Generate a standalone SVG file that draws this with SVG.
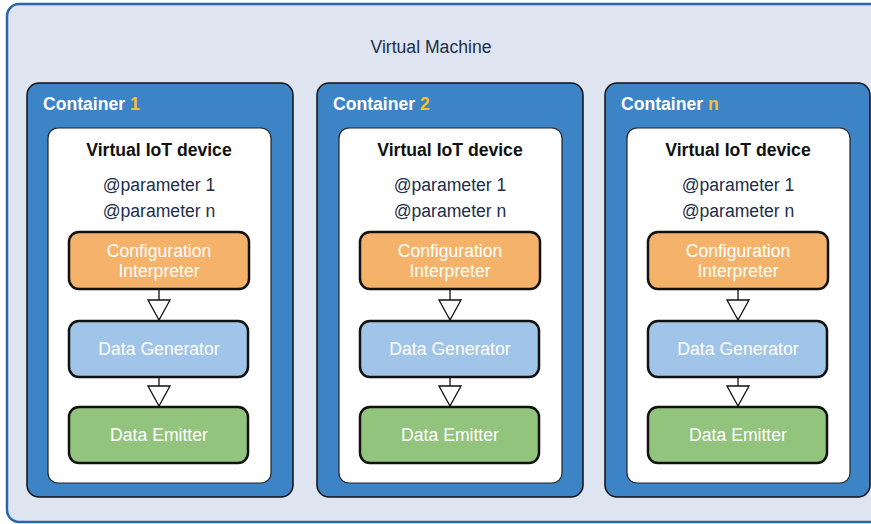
<svg xmlns="http://www.w3.org/2000/svg" width="871" height="524" viewBox="0 0 871 524">
  <defs>
    <style>
      .vm { fill: #dfe5f0; stroke: #2a66a8; stroke-width: 2.5; }
      .container { fill: #3d84c6; stroke: #111; stroke-width: 1.5; }
      .device { fill: #fff; stroke: #222; stroke-width: 1.2; }
      .step { stroke: #111; stroke-width: 2.5; }
      .cfg { fill: #f5b26b; }
      .gen { fill: #a0c5e8; }
      .emit { fill: #93c47d; }
      text { font-family: "Liberation Sans", Arial, sans-serif; font-size: 17.6px; }
      .vm-label { fill: #1c2e4a; text-anchor: middle; }
      .c-label { font-weight: bold; fill: #fff; }
      .c-num { fill: #f2c12e; }
      .d-title { font-weight: bold; fill: #111; text-anchor: middle; }
      .param { fill: #1c2e4a; text-anchor: middle; }
      .s-label { fill: #fff; text-anchor: middle; }
      .link { stroke: #111; stroke-width: 1.3; fill: none; marker-end: url(#hollow); }
    </style>
    <marker id="hollow" viewBox="0 0 24 22" refX="12" refY="21" markerWidth="24" markerHeight="22" markerUnits="userSpaceOnUse" orient="0">
      <path d="M1,1 L23,1 L12,21 Z" fill="#fff" stroke="#111" stroke-width="1.3"/>
    </marker>
    <!-- one virtual device with its pipeline, drawn at origin x = 0 -->
    <g id="device-template">
      <rect class="device" x="48" y="128" width="223" height="355" rx="10"/>
      <text class="d-title" x="159" y="156">Virtual IoT device</text>
      <text class="param" x="159" y="191">@parameter 1</text>
      <text class="param" x="159" y="217">@parameter n</text>
      <g>
        <rect class="step cfg" x="69" y="232" width="180" height="57" rx="10"/>
        <text class="s-label" x="159" y="257">Configuration</text>
        <text class="s-label" x="159" y="277">Interpreter</text>
      </g>
      <g>
        <rect class="step gen" x="69" y="321" width="179" height="56" rx="10"/>
        <text class="s-label" x="159" y="355">Data Generator</text>
      </g>
      <g>
        <rect class="step emit" x="69" y="407" width="179" height="56" rx="10"/>
        <text class="s-label" x="159" y="441">Data Emitter</text>
      </g>
      <g class="connectors">
        <line class="link" x1="159" y1="290" x2="159" y2="320"/>
        <line class="link" x1="159" y1="378" x2="159" y2="406"/>
      </g>
    </g>
  </defs>

  <g id="virtual-machine">
    <rect class="vm" x="7" y="4" width="880" height="518" rx="12"/>
    <text class="vm-label" x="431" y="53">Virtual Machine</text>
  </g>

  <g id="container-1">
    <rect class="container" x="27" y="83" width="266" height="414" rx="12"/>
    <text class="c-label" x="43" y="110">Container <tspan class="c-num">1</tspan></text>
    <use href="#device-template"/>
  </g>

  <g id="container-2">
    <rect class="container" x="317" y="83" width="266" height="414" rx="12"/>
    <text class="c-label" x="333" y="110">Container <tspan class="c-num">2</tspan></text>
    <use href="#device-template" x="291"/>
  </g>

  <g id="container-n">
    <rect class="container" x="605" y="83" width="265" height="414" rx="12"/>
    <text class="c-label" x="621" y="110">Container <tspan class="c-num">n</tspan></text>
    <use href="#device-template" x="579"/>
  </g>
</svg>
